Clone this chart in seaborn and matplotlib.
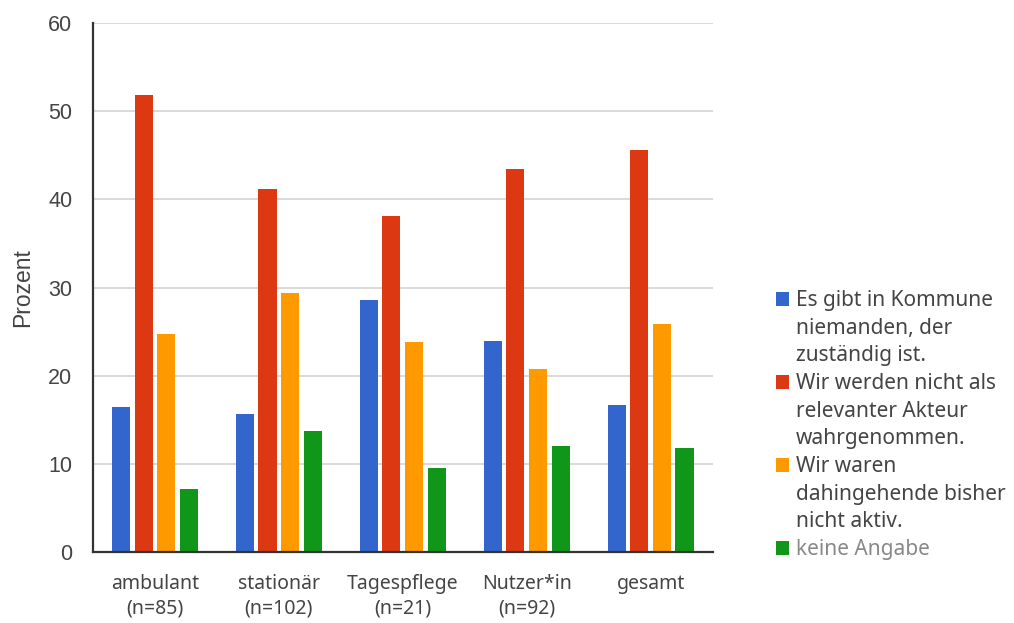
import matplotlib
matplotlib.use("Agg")
import matplotlib.pyplot as plt
import seaborn as sns
import pandas as pd
from matplotlib.patches import Patch

# Survey results in percent per facility type
categories = ["ambulant\n(n=85)", "stationär\n(n=102)", "Tagespflege\n(n=21)",
              "Nutzer*in\n(n=92)", "gesamt"]
series_names = [
    "Es gibt in Kommune niemanden, der zuständig ist.",
    "Wir werden nicht als relevanter Akteur wahrgenommen.",
    "Wir waren dahingehende bisher nicht aktiv.",
    "keine Angabe",
]
niemand_zustaendig = [16.5, 15.7, 28.6, 23.9, 16.7]
nicht_relevant = [51.8, 41.2, 38.1, 43.5, 45.6]
nicht_aktiv = [24.7, 29.4, 23.8, 20.7, 25.9]
keine_angabe = [7.1, 13.7, 9.5, 12.0, 11.8]

# Legend lines (entries wrap over several lines)
legend_lines = [
    ["Es gibt in Kommune", "niemanden, der", "zuständig ist."],
    ["Wir werden nicht als", "relevanter Akteur", "wahrgenommen."],
    ["Wir waren", "dahingehende bisher", "nicht aktiv."],
    ["keine Angabe"],
]
colors = ["#3366CC", "#DC3912", "#FF9900", "#109618"]

rows = []
for name, vals in zip(series_names,
                      [niemand_zustaendig, nicht_relevant, nicht_aktiv, keine_angabe]):
    for cat, v in zip(categories, vals):
        rows.append({"Kategorie": cat, "Antwort": name, "Prozent": v})
df = pd.DataFrame(rows)

sns.set_theme(style="white")
plt.rcParams["font.family"] = ["Liberation Sans", "DejaVu Sans"]

fig = plt.figure(figsize=(10.14, 6.23), dpi=100)
ax = fig.add_axes([0.0917, 0.114, 0.611, 0.849])

sns.barplot(data=df, x="Kategorie", y="Prozent", hue="Antwort",
            hue_order=series_names, order=categories, palette=colors,
            width=0.73, gap=0.2, ax=ax, legend=False, saturation=1,
            edgecolor="none", linewidth=0)

ax.set_xlim(-0.5, 4.5)
ax.set_ylim(0, 60)
ax.set_yticks(range(0, 61, 10))
ax.yaxis.grid(True, color="#d9d9d9", linewidth=1.4)
ax.set_axisbelow(True)
for s in ["top", "right"]:
    ax.spines[s].set_visible(False)
for s in ["left", "bottom"]:
    ax.spines[s].set_color("#333333")
    ax.spines[s].set_linewidth(1.6)
ax.tick_params(axis="both", length=0, colors="#444444")
ax.tick_params(axis="y", pad=15, labelsize=15.5)
ax.tick_params(axis="x", pad=16)
for lbl in ax.get_xticklabels():
    lbl.set_fontfamily("Noto Sans")
    lbl.set_fontsize(14)
    lbl.set_linespacing(1.3)
ax.set_xlabel("")
ax.set_ylabel("Prozent", fontsize=16.5, color="#444444", labelpad=10)

# Legend: one row per text line, colour patch only on each entry's first line
handles, labels, text_colors = [], [], []
for col, lines in zip(colors, legend_lines):
    for i, line in enumerate(lines):
        if i == 0:
            handles.append(Patch(facecolor=col, edgecolor="none"))
        else:
            handles.append(Patch(facecolor="none", edgecolor="none"))
        labels.append(line)
        text_colors.append("#888888" if col == colors[-1] else "#444444")

leg = fig.legend(handles, labels, loc="upper left", bbox_to_anchor=(0.757, 0.548),
                 frameon=False, prop={"family": "Noto Sans", "size": 15},
                 handlelength=0.65, handleheight=0.65, handletextpad=0.3,
                 labelspacing=0.32, borderaxespad=0)
for t, c in zip(leg.get_texts(), text_colors):
    t.set_color(c)

fig.savefig("out.png", dpi=100)
